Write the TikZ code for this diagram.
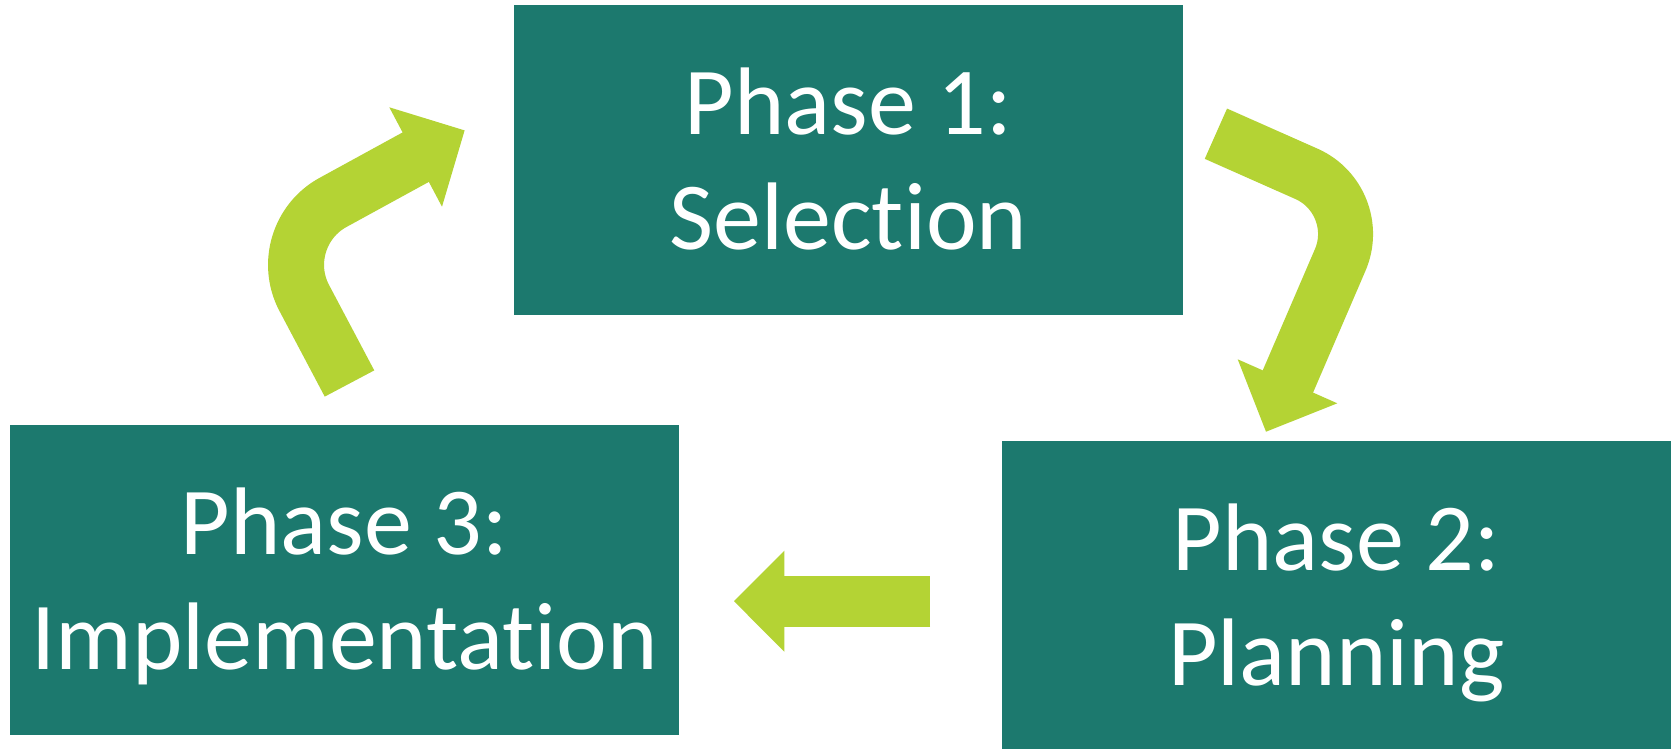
\documentclass[tikz,border=0pt]{standalone}
\usepackage{fontspec}
\setmainfont{Carlito}[RawFeature={-liga;-clig}]
\definecolor{phasebox}{RGB}{28,121,110}
\definecolor{arrowgreen}{RGB}{180,211,52}
\newcommand\phstrut{\rule[-17pt]{0pt}{99pt}}
\begin{document}
\begin{tikzpicture}[x=1pt,y=-1pt,
  phase/.style={fill=phasebox, draw=none, minimum width=668.7pt, minimum height=309.7pt,
    inner sep=0pt, text=white, align=center, font=\fontsize{96}{115}\selectfont},
  shaft/.style={draw=arrowgreen, line cap=butt, line join=round},
  head/.style={fill=arrowgreen, draw=none}]
\fill[white] (0,0) rectangle (1673,749);
\useasboundingbox (0,0) rectangle (1673,749);

% phase boxes
\node[phase] (b1) at (848.35,159.85) {\phstrut Phase 1:\\\phstrut Selection};
\node[phase] (b2) at (1336.35,595.55) {\phstrut Phase 2:\\\phstrut Planning};
\node[phase] (b3) at (344.5,579.65) {\phstrut Phase 3:\\\phstrut Implementation};

% arrow 1 -> 2
\coordinate (r1s) at (1215.9,133.7);
\coordinate (r1c) at (1365.9,200.2);
\coordinate (r1b) at (1287.2,383.1);
\coordinate (r1l) at (1237.7,359.3);
\coordinate (r1t) at (1266,431.7);
\coordinate (r1r) at (1337.3,403.3);
\draw[shaft, line width=55pt, rounded corners=65pt] (r1s) -- (r1c) -- (r1b);
\fill[head] (r1l) -- (r1t) -- (r1r) -- cycle;

% arrow 2 -> 3
\coordinate (h2s) at (930,601.2);
\coordinate (h2b) at (783,601.2);
\coordinate (h2u) at (784.3,550.7);
\coordinate (h2t) at (734,601.2);
\coordinate (h2d) at (784.3,651.7);
\draw[shaft, line width=51pt] (h2s) -- (h2b);
\fill[head] (h2u) -- (h2t) -- (h2d) -- cycle;

% arrow 3 -> 1
\coordinate (l3s) at (349.5,383.5);
\coordinate (l3c) at (271.5,236.1);
\coordinate (l3b) at (417.3,156.3);
\coordinate (l3u) at (389.3,107.3);
\coordinate (l3t) at (464.6,130.4);
\coordinate (l3d) at (442,206.7);
\draw[shaft, line width=56pt, rounded corners=70pt] (l3s) -- (l3c) -- (l3b);
\fill[head] (l3u) -- (l3t) -- (l3d) -- cycle;
\end{tikzpicture}
\end{document}
